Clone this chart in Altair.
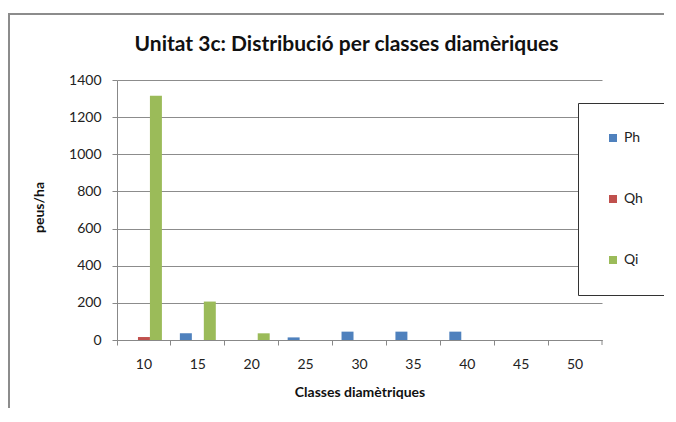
import altair as alt
import pandas as pd

classes = ["10", "15", "20", "25", "30", "35", "40", "45", "50"]
series = ["Ph", "Qh", "Qi"]
ph = [0, 36, 0, 14, 45, 45, 45, 0, 0]
qh = [16, 0, 0, 0, 0, 0, 0, 0, 0]
qi = [1315, 207, 36, 0, 0, 0, 0, 0, 0]
colors = ["#4F81BD", "#C0504D", "#9BBB59"]
title_text = "Unitat 3c: Distribució per classes diamèriques"

rows = []
for s, vals in zip(series, [ph, qh, qi]):
    for c, v in zip(classes, vals):
        rows.append({"classe": c, "serie": s, "valor": v})
df = pd.DataFrame(rows)

FONT = "Lato"
W, H = 485, 260
TXT = "#222222"

bars = alt.Chart(df).mark_bar().encode(
    x=alt.X("classe:N", sort=classes,
            scale=alt.Scale(paddingInner=0, paddingOuter=0),
            axis=alt.Axis(title="Classes diamètriques", labelAngle=0,
                          bandPosition=0,
                          domainColor="#888888", tickColor="#888888",
                          tickSize=5, labelPadding=12, labelFontSize=14,
                          labelColor=TXT, titleFontSize=14,
                          titleFontWeight="bold", titleColor="#111111",
                          titlePadding=14, labelFont=FONT, titleFont=FONT,
                          grid=False)),
    xOffset=alt.XOffset("serie:N", sort=series,
                        scale=alt.Scale(paddingOuter=0.75, paddingInner=0)),
    y=alt.Y("valor:Q", scale=alt.Scale(domain=[0, 1400]),
            axis=alt.Axis(title="peus/ha", values=list(range(0, 1401, 200)),
                          format="d",
                          gridColor="#8c8c8c", domainColor="#888888",
                          tickColor="#888888", tickSize=5, labelPadding=11,
                          labelFontSize=14, labelColor=TXT,
                          titleFontSize=14, titleFontWeight="bold",
                          titleColor="#111111", titleX=-71, titleY=127,
                          labelFont=FONT, titleFont=FONT)),
    color=alt.Color("serie:N", sort=series,
                    scale=alt.Scale(domain=series, range=colors),
                    legend=alt.Legend(title=None, orient="none",
                                      legendX=461, legendY=23,
                                      fillColor="white", strokeColor="#333333",
                                      padding=28, rowPadding=47,
                                      symbolType="square", symbolSize=64,
                                      symbolStrokeWidth=0,
                                      labelFontSize=14, labelFont=FONT,
                                      labelColor=TXT, labelOffset=4)),
)

one = pd.DataFrame({"a": [0]})
frame_top = alt.Chart(one).mark_rule(color="#8c8c8c", strokeWidth=2).encode(
    x=alt.value(-108), x2=alt.value(W + 120), y=alt.value(-66),
)
frame_left = alt.Chart(one).mark_rule(color="#8c8c8c", strokeWidth=2).encode(
    x=alt.value(-108), y=alt.value(-67), y2=alt.value(H + 120),
)

end_tick = alt.Chart(one).mark_rule(color="#888888").encode(
    x=alt.value(W), y=alt.value(H), y2=alt.value(H + 5),
)

title = alt.Chart(pd.DataFrame({"t": [title_text]})).mark_text(
    font=FONT, fontSize=21, fontWeight="bold", color="#111111",
    align="center", baseline="middle"
).encode(
    text="t:N", x=alt.value(W / 2 - 13), y=alt.value(-35),
)

chart = alt.layer(frame_top, frame_left, bars, end_tick, title).properties(
    width=W, height=H,
    autosize=alt.AutoSizeParams(type="none"),
    padding={"left": 109, "top": 72, "right": 62, "bottom": 68},
).configure_view(stroke=None)

chart.save("out.html", embed_options={"renderer": "svg", "actions": False})
